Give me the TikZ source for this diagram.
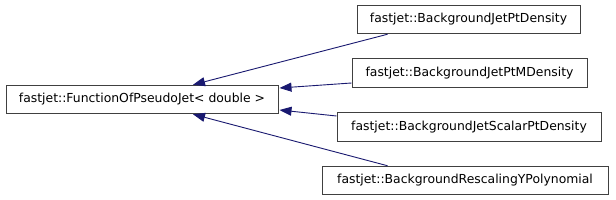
\documentclass[tikz,border=0pt]{standalone}
\usepackage{fontspec}
\setmainfont{DejaVu Sans}
\usetikzlibrary{arrows.meta,calc}
\definecolor{ink}{HTML}{000000}
\definecolor{frame}{HTML}{404040}
\definecolor{edgeblue}{HTML}{191970}

\begin{document}
\begin{tikzpicture}[x=1pt,y=-1pt,font=\fontsize{12.4}{14}\selectfont,text=ink,
  cls/.style={draw=frame,line width=1pt,fill=white,inner sep=0pt,minimum height=28.5pt},
  inherit/.style={draw=edgeblue,line width=0.9pt,-{Triangle[length=12pt,width=9pt]}}]
  \path[fill=white] (0,0) rectangle (616,200);

  % base class
  \node[cls,minimum width=272pt] (base) at (142,99.5) {fastjet::FunctionOfPseudoJet< double >};

  % derived classes
  \node[cls,minimum width=223pt] (ptdens) at (468.5,19.5) {fastjet::BackgroundJetPtDensity};
  \node[cls,minimum width=235pt] (ptmdens) at (469.5,73) {fastjet::BackgroundJetPtMDensity};
  \node[cls,minimum width=264pt] (scalar) at (469,127) {fastjet::BackgroundJetScalarPtDensity};
  \node[cls,minimum width=286pt] (rescal) at (465,180.5) {fastjet::BackgroundRescalingYPolynomial};

  \draw[inherit] ($(ptdens.south west)+(31,0)$) -- ($(base.north)+(51,0)$);
  \draw[inherit] ($(ptmdens.west)+(0,10)$) -- ($(base.east)+(1,-11.5)$);
  \draw[inherit] ($(scalar.west)+(0,-11)$) -- ($(base.east)+(1,10.5)$);
  \draw[inherit] ($(rescal.north west)+(66,0)$) -- ($(base.south)+(51,0)$);
\end{tikzpicture}
\end{document}
